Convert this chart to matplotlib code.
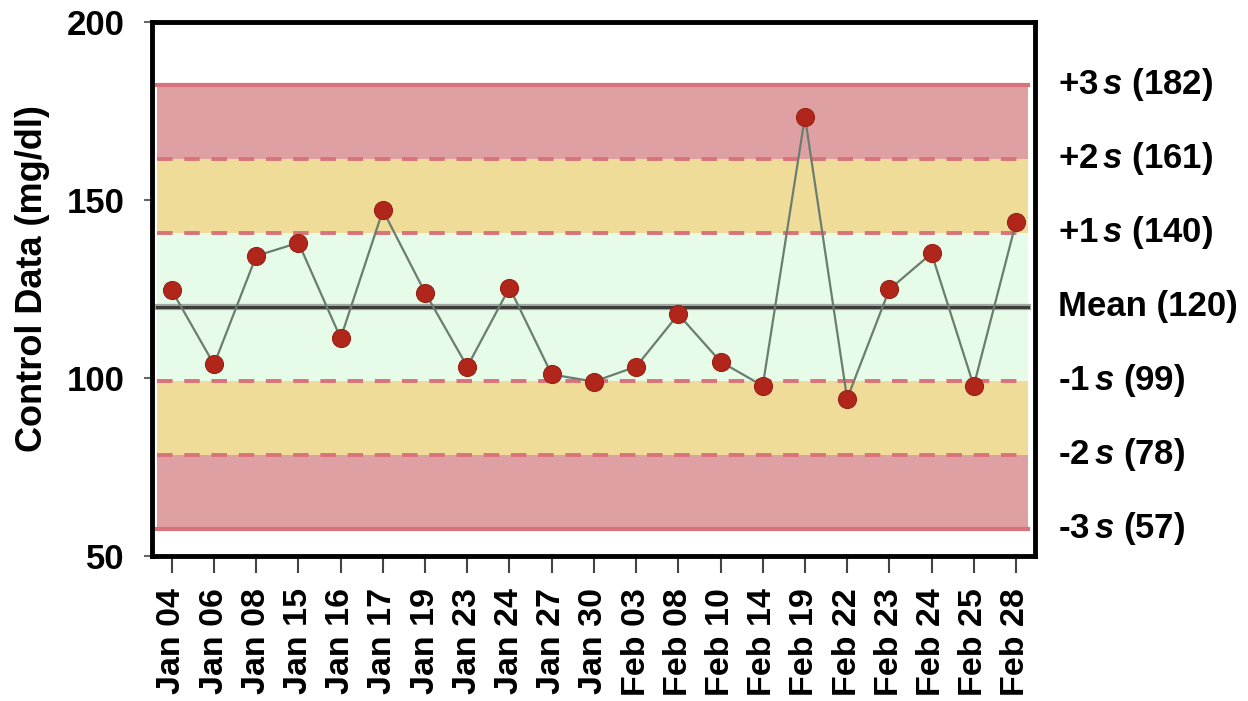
import matplotlib.pyplot as plt

plt.rcParams['font.family'] = ['Liberation Sans', 'DejaVu Sans']
plt.rcParams['font.weight'] = 'bold'
plt.rcParams['mathtext.fontset'] = 'custom'
plt.rcParams['mathtext.it'] = 'Liberation Sans:italic:bold'
plt.rcParams['mathtext.rm'] = 'Liberation Sans:bold'

# data
dates = ['Jan 04', 'Jan 06', 'Jan 08', 'Jan 15', 'Jan 16', 'Jan 17', 'Jan 19',
         'Jan 23', 'Jan 24', 'Jan 27', 'Jan 30', 'Feb 03', 'Feb 08', 'Feb 10',
         'Feb 14', 'Feb 19', 'Feb 22', 'Feb 23', 'Feb 24', 'Feb 25', 'Feb 28']
values = [124.6, 103.8, 134.3, 138.0, 111.2, 147.1, 124.0,
          103.2, 125.4, 101.0, 99.0, 103.2, 117.9, 104.6,
          97.8, 173.4, 94.2, 124.9, 135.0, 97.8, 143.7]
mean = 120.0
sd = 20.8
sd_steps = [3, 2, 1, 0, -1, -2, -3]
limit_labels = ['+3$\\,s$ (182)', '+2$\\,s$ (161)', '+1$\\,s$ (140)', 'Mean (120)',
                '-1$\\,s$ (99)', '-2$\\,s$ (78)', '-3$\\,s$ (57)']

red = '#dfa0a3'
yellow = '#eedc98'
green = '#e6fbe8'
line_red = '#d9737b'

fig = plt.figure(figsize=(12.48, 7.01), dpi=100)
ax = fig.add_axes([0.1218, 0.2068, 0.7075, 0.7618])

x = list(range(len(dates)))
lim = {k: mean + k * sd for k in sd_steps}

# zones
x0, x1 = 0.006, 0.992
ax.axhspan(lim[2], lim[3], xmin=x0, xmax=x1, color=red, lw=0, zorder=0)
ax.axhspan(lim[-3], lim[-2], xmin=x0, xmax=x1, color=red, lw=0, zorder=0)
ax.axhspan(lim[1], lim[2], xmin=x0, xmax=x1, color=yellow, lw=0, zorder=0)
ax.axhspan(lim[-2], lim[-1], xmin=x0, xmax=x1, color=yellow, lw=0, zorder=0)
ax.axhspan(lim[-1], lim[1], xmin=x0, xmax=x1, color=green, lw=0, zorder=0)

# limit lines
for k in sd_steps:
    if k == 0:
        ax.axhline(lim[k], xmin=x0, xmax=x1, color='#a0a8a0', lw=4.5, zorder=1)
        ax.axhline(lim[k], xmin=x0, xmax=x1, color='#3c3c3c', lw=2.2, zorder=1)
    elif abs(k) == 3:
        ax.axhline(lim[k], xmin=x0, xmax=x1, color=line_red, lw=3, zorder=1)
    else:
        ax.axhline(lim[k], xmin=x0, xmax=x1, color=line_red, lw=2.8,
                   dashes=(4, 3), zorder=1)

ax.plot(x, values, color='#6b7d6e', lw=1.6, zorder=2)
ax.plot(x, values, 'o', ms=13, color='#b0261b', mec='#9a2217', mew=0.8, zorder=3)

# labels on the right
for k, lab in zip(sd_steps, limit_labels):
    ax.text(1.026, lim[k], lab, transform=ax.get_yaxis_transform(),
            ha='left', va='center', fontsize=25, fontweight='bold')

ax.set_xlim(-0.47, 20.45)
ax.set_ylim(50, 200)
ax.set_yticks([50, 100, 150, 200])
ax.set_xticks(x)
ax.set_xticklabels(dates, rotation=90)
ax.tick_params(axis='y', length=6, width=1.5, color='#666666', pad=14, labelsize=25)
ax.tick_params(axis='x', length=12, width=1.5, color='#444444', pad=11, labelsize=24.5)
for s in ax.spines.values():
    s.set_linewidth(3.5)
    s.set_color('black')

ax.set_ylabel('Control Data (mg/dl)', fontsize=26, fontweight='bold')
ax.yaxis.set_label_coords(-0.115, 0.52)

plt.savefig('out.png', dpi=100)
